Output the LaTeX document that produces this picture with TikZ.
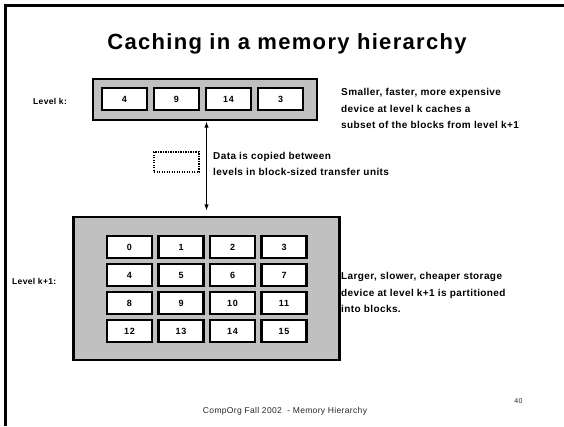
\documentclass[tikz,border=0pt]{standalone}
\usepackage{fontspec}
\setmainfont{Liberation Sans}
\newfontfamily\spfont[LetterSpace=4]{Liberation Sans}
\newfontfamily\digfont[LetterSpace=8]{Liberation Sans}
\newfontfamily\titlefont[LetterSpace=6]{Liberation Sans}
\usetikzlibrary{arrows.meta}
\definecolor{boxgray}{RGB}{192,192,192}
\begin{document}
\begin{tikzpicture}[x=1pt,y=-1pt,
  cell/.style={draw,line width=2.1pt,fill=white,minimum width=45pt,minimum height=22pt,inner sep=0pt,
    font=\digfont\bfseries\fontsize{9}{10}\selectfont},
  bigbox/.style={draw,line width=2.3pt,fill=boxgray,inner sep=0pt},
  lbl/.style={anchor=west,inner sep=0pt,align=left,font=\spfont\bfseries\fontsize{10}{16.5}\selectfont},
  lvl/.style={anchor=west,inner sep=0pt,font=\spfont\bfseries\fontsize{8.5}{10}\selectfont},
  dbl/.style={{Latex[length=6.5pt,width=4.5pt]}-{Latex[length=6.5pt,width=4.5pt]},line width=1.8pt}]
\useasboundingbox (0,0) rectangle (564,426);
% slide frame
\draw[line width=2.3pt] (5.5,426) -- (5.5,5.5) -- (564,5.5);
% title
\node[font=\titlefont\bfseries\fontsize{22}{26}\selectfont] (title) at (287,44) {Caching in a memory hierarchy};
% level k
\node[bigbox,minimum width=224pt,minimum height=41pt] (kbox) at (205,99.5) {};
\foreach \v [count=\i from 0] in {4,9,14,3}
  \node[cell] (k\i) at (124.5+52*\i,99.2) {\v};
\node[lvl] (lk) at (33,101) {Level k:};
\node[lbl] (ktext) at (341,108.5) {Smaller, faster, more expensive\\device at level k caches a\\subset of the blocks from level k+1};
% level k+1
\node[bigbox,minimum width=266pt,minimum height=143pt] (k1box) at (206.5,288.5) {};
\foreach \r in {0,...,3}
  \foreach \c in {0,...,3}{
    \pgfmathtruncatemacro{\n}{4*\r+\c}
    \node[cell] (m\n) at (129.5+51.5*\c,247+28*\r) {\n};
  }
\node[lvl] (lk1) at (12,281) {Level k+1:};
\node[lbl] (k1text) at (341,292.5) {Larger, slower, cheaper storage\\device at level k+1 is partitioned\\into blocks.};
% transfer
\node[draw,line width=1.2pt,dash pattern=on 1.2pt off 1.3pt,minimum width=45pt,minimum height=20pt,inner sep=0pt] (unit) at (176.5,162) {};
\node[lbl] (ttext) at (213,164) {Data is copied between\\levels in block-sized transfer units};
\draw[dbl] (kbox.south -| k1box.north) -- ([yshift=5pt]k1box.north);
% footer
\node[font=\spfont\fontsize{8.5}{10}\selectfont,text=black!85] (foot) at (285,411) {CompOrg Fall 2002 \ - Memory Hierarchy};
\node[font=\spfont\fontsize{7}{9}\selectfont,text=black!85] (pg) at (518.5,401) {40};
\end{tikzpicture}
\end{document}
